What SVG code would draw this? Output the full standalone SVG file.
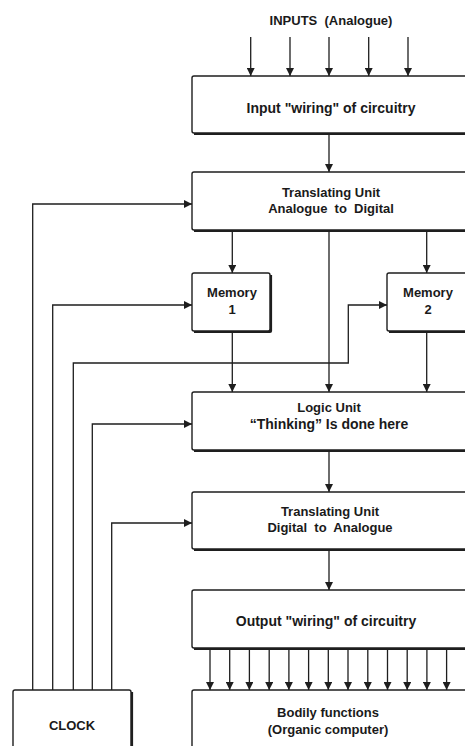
<svg xmlns="http://www.w3.org/2000/svg" width="465" height="746" viewBox="0 0 465 746">
<style>
  .box{fill:#fff;stroke:#1e1e1e;stroke-width:1.4}
  .sh{fill:none;stroke:#1e1e1e;stroke-width:2.2}
  .t{font-family:"Liberation Sans",Arial,sans-serif;font-weight:bold;font-size:13px;fill:#1a1a1a;text-anchor:middle;white-space:pre}
  .w{font-size:14px}
  .c{fill:none;stroke:#1e1e1e;stroke-width:1.3}
  .a{marker-end:url(#ah)}
</style>
<defs>
  <marker id="ah" markerUnits="userSpaceOnUse" markerWidth="8" markerHeight="8" refX="8" refY="4" orient="auto">
    <path d="M0,0 L8,4 L0,8 z" fill="#1e1e1e"/>
  </marker>
</defs>
<rect width="465" height="746" fill="#fff"/>
<text class="t" x="331" y="25" xml:space="preserve">INPUTS  (Analogue)</text>
<g id="connectors">
  <path class="c a" d="M250.7,37 V76"/>
  <path class="c a" d="M290,37 V76"/>
  <path class="c a" d="M329,37 V76"/>
  <path class="c a" d="M368.7,37 V76"/>
  <path class="c a" d="M408,37 V76"/>
  <path class="c a" d="M329,134 V172"/>
  <path class="c a" d="M32.7,690 V204 H192"/>
  <path class="c a" d="M52.7,690 V305 H192"/>
  <path class="c a" d="M73.3,690 V363 H348.3 V305 H387"/>
  <path class="c a" d="M92.3,690 V424 H192"/>
  <path class="c a" d="M111.7,690 V523 H192"/>
  <path class="c a" d="M232.3,231 V273"/>
  <path class="c a" d="M426.7,231 V273"/>
  <path class="c a" d="M329,231 V392"/>
  <path class="c a" d="M232.3,332 V392"/>
  <path class="c a" d="M426.7,332 V392"/>
  <path class="c a" d="M329,451 V492"/>
  <path class="c a" d="M329,550 V590"/>
  <path class="c a" d="M210,649 V690"/>
  <path class="c a" d="M229.7,649 V690"/>
  <path class="c a" d="M249.4,649 V690"/>
  <path class="c a" d="M269.2,649 V690"/>
  <path class="c a" d="M288.9,649 V690"/>
  <path class="c a" d="M308.6,649 V690"/>
  <path class="c a" d="M328.3,649 V690"/>
  <path class="c a" d="M348,649 V690"/>
  <path class="c a" d="M367.8,649 V690"/>
  <path class="c a" d="M387.5,649 V690"/>
  <path class="c a" d="M407.2,649 V690"/>
  <path class="c a" d="M426.9,649 V690"/>
  <path class="c a" d="M446.6,649 V690"/>
</g>
<g id="input-wiring">
  <rect class="box" x="192" y="76" width="285" height="57" rx="2"/>
  <path class="sh" d="M194,134 H477"/>
  <text class="t w" x="331" y="113">Input "wiring" of circuitry</text>
</g>
<g id="translating-ad">
  <rect class="box" x="192" y="172" width="285" height="58" rx="2"/>
  <path class="sh" d="M194,231 H477"/>
  <text class="t" x="331" y="197">Translating Unit</text>
  <text class="t" x="331" y="213" xml:space="preserve">Analogue  to  Digital</text>
</g>
<g id="memory1">
  <rect class="box" x="192" y="273" width="78" height="58" rx="2"/>
  <path class="sh" d="M194,332 H270 Q271,332 271,331 V275"/>
  <text class="t" x="232" y="297">Memory</text>
  <text class="t" x="232" y="314">1</text>
</g>
<g id="memory2">
  <rect class="box" x="387" y="273" width="90" height="58" rx="2"/>
  <path class="sh" d="M389,332 H477"/>
  <text class="t" x="428" y="297">Memory</text>
  <text class="t" x="428" y="314">2</text>
</g>
<g id="logic-unit">
  <rect class="box" x="192" y="392" width="285" height="58" rx="2"/>
  <path class="sh" d="M194,451 H477"/>
  <text class="t" x="329" y="412">Logic Unit</text>
  <text class="t w" x="329" y="429">“Thinking” Is done here</text>
</g>
<g id="translating-da">
  <rect class="box" x="192" y="492" width="285" height="57" rx="2"/>
  <path class="sh" d="M194,550 H477"/>
  <text class="t" x="330" y="516">Translating Unit</text>
  <text class="t" x="330" y="532" xml:space="preserve">Digital  to  Analogue</text>
</g>
<g id="output-wiring">
  <rect class="box" x="192" y="590" width="285" height="58" rx="2"/>
  <path class="sh" d="M194,649 H477"/>
  <text class="t w" x="326" y="626">Output "wiring" of circuitry</text>
</g>
<g id="bodily-functions">
  <rect class="box" x="192" y="690" width="285" height="80" rx="2"/>
  <text class="t" x="328" y="717">Bodily functions</text>
  <text class="t" x="328" y="734">(Organic computer)</text>
</g>
<g id="clock">
  <rect class="box" x="13" y="690" width="118" height="80" rx="2"/>
  <path class="sh" d="M132,692 V770"/>
  <text class="t" x="72" y="730">CLOCK</text>
</g>
</svg>
